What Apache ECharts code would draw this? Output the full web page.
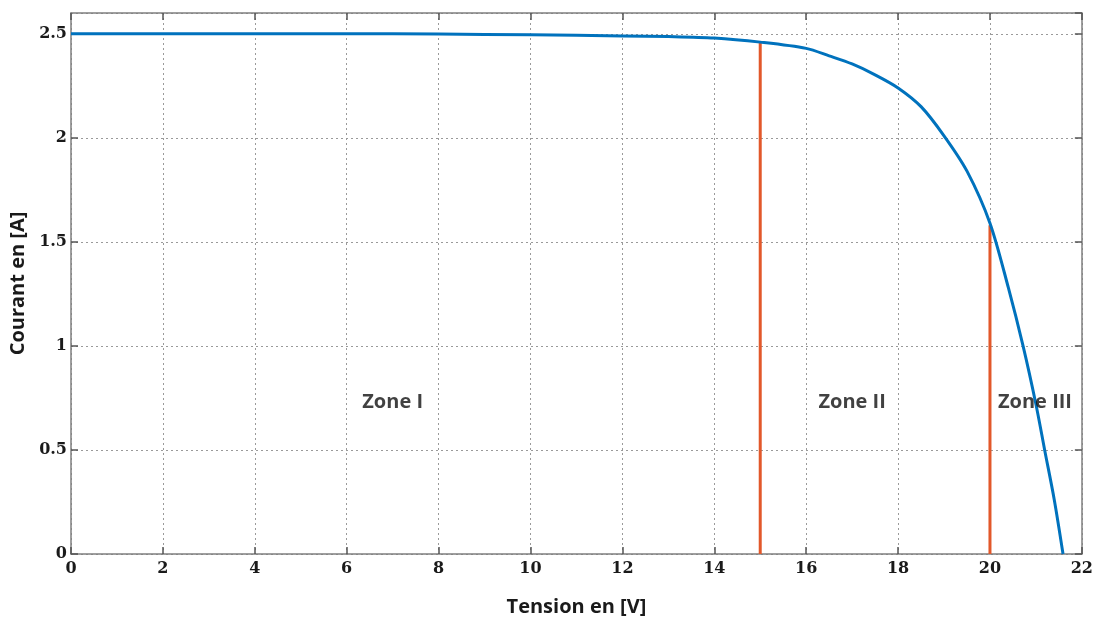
<!DOCTYPE html>
<html>
<head>
<meta charset="utf-8">
<script src="https://cdn.jsdelivr.net/npm/echarts@6/dist/echarts.min.js"></script>
<style>
  html, body { margin: 0; padding: 0; background: #fff; }
  #chart { width: 1096px; height: 624px; }
</style>
</head>
<body>
<div id="chart"></div>
<script>
// I-V curve
const tension = [0, 2, 4, 6, 8, 10, 12, 13, 14, 15, 16, 16.5, 17, 17.5, 18, 18.5, 19, 19.5, 20, 20.4, 20.72, 21.0, 21.19, 21.4, 21.59]
const courant = [2.5, 2.5, 2.5, 2.5, 2.499, 2.495, 2.49, 2.487, 2.48, 2.46, 2.43, 2.394, 2.355, 2.303, 2.24, 2.15, 2.01, 1.84, 1.59, 1.28, 1.0, 0.72, 0.5, 0.26, 0]

// zone boundaries (orange verticals)
const boundaryX = [15, 20]
const boundaryTop = [2.46, 1.58]

// zone labels
const zoneNames = ['Zone I', 'Zone II', 'Zone III']
const zoneX = [7.0, 17.0, 20.98]
const zoneY = [0.73, 0.73, 0.73]

const blue = '#0072BD'
const orange = '#E2582A'
const frame = '#7f7f7f'
const tickFont = { fontFamily: 'DejaVu Serif', fontWeight: 'bold', fontSize: 16, color: '#1a1a1a' }

const chart = echarts.init(document.getElementById('chart'))

const boundarySeries = boundaryX.map((bx, idx) => ({
  type: 'line',
  data: [[bx, 0], [bx, boundaryTop[idx]]],
  symbol: 'none',
  lineStyle: { color: orange, width: 3 },
  z: 2,
}))

const mirrorAxis = {
  axisLine: { show: true, onZero: false, lineStyle: { color: frame, width: 1.5 } },
  axisTick: { show: true, inside: true, length: 7, lineStyle: { color: '#555', width: 1.5 } },
  axisLabel: { show: false },
  splitLine: { show: false },
}

chart.setOption({
  animation: false,
  grid: { left: 71, right: 13, top: 13, bottom: 70 },
  xAxis: [
    {
      type: 'value',
      min: 0,
      max: 22,
      interval: 2,
      name: 'Tension en [V]',
      nameLocation: 'middle',
      nameGap: 43,
      nameTextStyle: { fontFamily: 'Open Sans', fontWeight: 'bold', fontSize: 20, color: '#1a1a1a' },
      axisLine: { show: true, onZero: false, lineStyle: { color: frame, width: 1.5 } },
      axisTick: { show: true, inside: true, length: 7, lineStyle: { color: '#555', width: 1.5 } },
      axisLabel: { ...tickFont, margin: 7 },
      splitLine: { show: true, lineStyle: { color: '#9a9a9a', type: [2, 3], width: 1 } },
    },
    { type: 'value', position: 'top', min: 0, max: 22, interval: 2, ...mirrorAxis },
  ],
  yAxis: [
    {
      type: 'value',
      min: 0,
      max: 2.6,
      interval: 0.5,
      name: 'Courant en [A]',
      nameLocation: 'middle',
      nameGap: 38,
      nameTextStyle: { fontFamily: 'Open Sans', fontWeight: 'bold', fontSize: 20, color: '#1a1a1a' },
      axisLine: { show: true, onZero: false, lineStyle: { color: frame, width: 1.5 } },
      axisTick: { show: true, inside: true, length: 7, lineStyle: { color: '#555', width: 1.5 } },
      axisLabel: { ...tickFont, margin: 4, showMaxLabel: false },
      splitLine: { show: true, lineStyle: { color: '#9a9a9a', type: [2, 3], width: 1 } },
    },
    { type: 'value', position: 'right', min: 0, max: 2.6, interval: 0.5, ...mirrorAxis },
  ],
  series: [
    ...boundarySeries,
    {
      type: 'line',
      data: tension.map((tv, ii) => [tv, courant[ii]]),
      symbol: 'none',
      smooth: 0.3,
      lineStyle: { color: blue, width: 3 },
      z: 3,
    },
    {
      type: 'scatter',
      data: zoneNames.map((nm, ii) => ({ name: nm, value: [zoneX[ii], zoneY[ii]] })),
      symbolSize: 0,
      label: {
        show: true,
        position: 'inside',
        formatter: (p) => p.name,
        fontFamily: 'Open Sans',
        fontWeight: 'bold',
        fontSize: 20,
        color: '#111',
      },
      z: 4,
    },
  ],
})
</script>
</body>
</html>
